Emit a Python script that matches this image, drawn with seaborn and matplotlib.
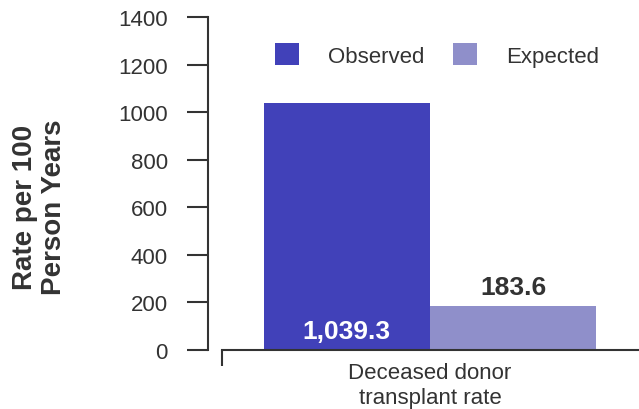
import numpy as np
import pandas as pd
import matplotlib
matplotlib.use("Agg")
import matplotlib.pyplot as plt
import seaborn as sns

# chart data
measures = ["Deceased donor\ntransplant rate"]
series = ["Observed", "Expected"]
rates = [1039.3, 183.6]
bar_colors = ["#4141B9", "#8F8FCA"]
y_ticks = [0, 200, 400, 600, 800, 1000, 1200, 1400]

df = pd.DataFrame({"measure": measures * len(series), "series": series, "rate": rates})

sns.set_style("white")
plt.rcParams["font.family"] = ["Liberation Sans", "DejaVu Sans"]
text_col = "#333333"

fig = plt.figure(figsize=(6.39, 4.10), dpi=100)
ax = fig.add_axes([222 / 639, 1 - 351 / 410, 416 / 639, 333 / 410])

sns.barplot(data=df, x="measure", y="rate", hue="series", palette=bar_colors,
            saturation=1, width=0.8, linewidth=0, ax=ax)

ax.set_ylim(0, 1400)
ax.set_xlim(-0.5, 0.5)
ax.set_yticks(y_ticks)
ax.set_xlabel("")
ax.set_ylabel("Rate per 100\nPerson Years", fontsize=20, fontweight="bold",
              color=text_col, linespacing=1.15)
ax.yaxis.set_label_coords(-0.372, 0.432)

# spines
for s in ["top", "right"]:
    ax.spines[s].set_visible(False)
ax.spines["left"].set_position(("outward", 10))
ax.spines["left"].set_bounds(0, 1400)
for s in ["left", "bottom"]:
    ax.spines[s].set_linewidth(1.5)
    ax.spines[s].set_color(text_col)

ax.tick_params(axis="y", direction="out", length=15, width=1.5, color=text_col,
               labelsize=16, labelcolor=text_col, pad=14, left=True)
ax.tick_params(axis="x", which="major", length=0, labelsize=16,
               labelcolor=text_col, pad=9)
ax.set_xticks([-0.5], minor=True)
ax.tick_params(axis="x", which="minor", direction="out", length=11.5,
               width=1.5, color=text_col, bottom=True)
for t in ax.get_xticklabels():
    t.set_linespacing(1.25)

# value labels
obs_bar = ax.containers[0][0]
ax.annotate(f"{rates[0]:,.1f}", (obs_bar.get_x() + obs_bar.get_width() / 2, 0),
            xytext=(0, 14), textcoords="offset points", ha="center", va="center",
            fontsize=19, fontweight="bold", color="white")
ax.bar_label(ax.containers[1], labels=[f"{rates[1]:,.1f}"], padding=5,
             fontsize=19, fontweight="bold", color=text_col)

sns.move_legend(ax, "center", bbox_to_anchor=(0.517, 0.886), ncol=2,
                frameon=False, title=None, fontsize=16, handlelength=1.08,
                handleheight=1.1, handletextpad=1.3, columnspacing=1.3)
for t in ax.get_legend().get_texts():
    t.set_color(text_col)

fig.savefig("out.png", dpi=100)
